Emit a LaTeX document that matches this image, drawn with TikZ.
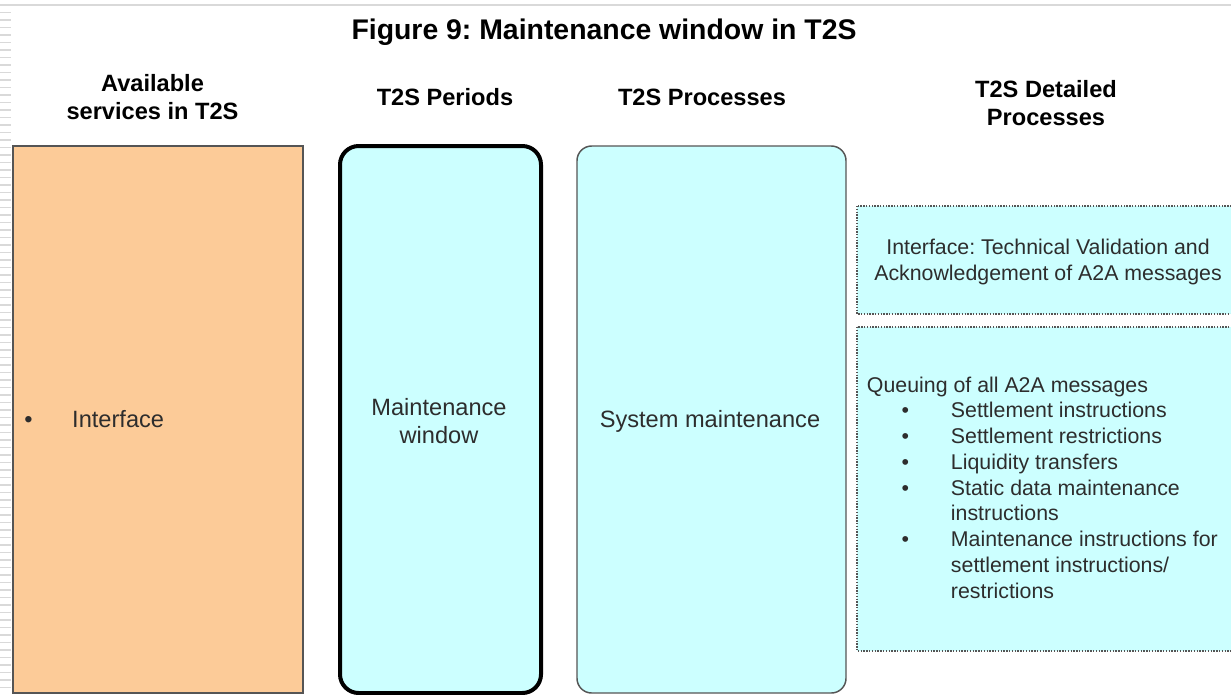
\documentclass[tikz,border=0pt]{standalone}
\usepackage{fontspec}
\setmainfont{Liberation Sans}
\usepackage{tikz}
\usetikzlibrary{positioning}
\definecolor{peach}{RGB}{252,203,152}
\definecolor{paleblue}{RGB}{204,255,255}
\definecolor{boxline}{RGB}{85,85,85}
\definecolor{txtgray}{RGB}{45,45,45}
\newcommand{\bul}{\makebox[63pt][l]{\hspace{26pt}\textbullet}}
\newcommand{\ind}{\hspace*{63pt}}
\frenchspacing

\begin{document}
\begin{tikzpicture}[x=0.75pt,y=-0.75pt,
  head/.style={font=\fontsize{17.7}{21}\selectfont\bfseries, align=center},
  body/.style={font=\fontsize{17.7}{21}\selectfont, text=txtgray, align=center},
  small/.style={font=\fontsize{16}{19.3}\selectfont, text=txtgray, align=center},
  column/.style={fill=paleblue, draw=boxline, line width=1.1pt},
  detail/.style={fill=paleblue, draw=boxline, line width=1.1pt, densely dotted}]
\useasboundingbox (0,0) rectangle (1231,694);
\clip (0,0) rectangle (1231,694);
% page edge
\draw[black!15, line width=1.5pt] (0,5) -- (1231,5);
\foreach \y in {12.5,20,...,694}
  \draw[black!15, line width=1.2pt] (0,\y) -- (11,\y);
% columns
\draw[fill=peach, draw=boxline, line width=1.1pt] (13,146) rectangle (303,693);
\draw[column, draw=black, line width=3pt, rounded corners=14pt] (340,146) rectangle (541,693);
\draw[column, rounded corners=11pt] (577,146) rectangle (846,693);
\draw[detail] (857,206) rectangle (1240,314);
\draw[detail] (857,327) rectangle (1240,651);
% headings
\node[font=\fontsize{21.3}{24}\selectfont\bfseries] (title) at (604,32) {Figure 9: Maintenance window in T2S};
\node[head] (availhead) at (152.5,97) {Available\\services in T2S};
\node[head] (periodhead) at (445,97) {T2S Periods};
\node[head] (processhead) at (702,97) {T2S Processes};
\node[head] (detailhead) at (1046,103) {T2S Detailed\\Processes};
% contents
\node[body, anchor=west, inner sep=0pt] (iface) at (24,419) {\makebox[36pt][l]{\textbullet}Interface};
\node[body] (mwindow) at (439,421.5) {Maintenance\\window};
\node[body] (sysmaint) at (710,421.5) {System maintenance};
\node[small] (validation) at (1048,262) {Interface: Technical Validation and\\Acknowledgement of A2A messages};
\node[small, align=left, anchor=north west, inner sep=0pt] (queuing) at (866.7,376.5) {Queuing of all A2A messages\\
\bul Settlement instructions\\
\bul Settlement restrictions\\
\bul Liquidity transfers\\
\bul Static data maintenance\\
\ind instructions\\
\bul Maintenance instructions for\\
\ind settlement instructions/\\
\ind restrictions};
\end{tikzpicture}
\end{document}
